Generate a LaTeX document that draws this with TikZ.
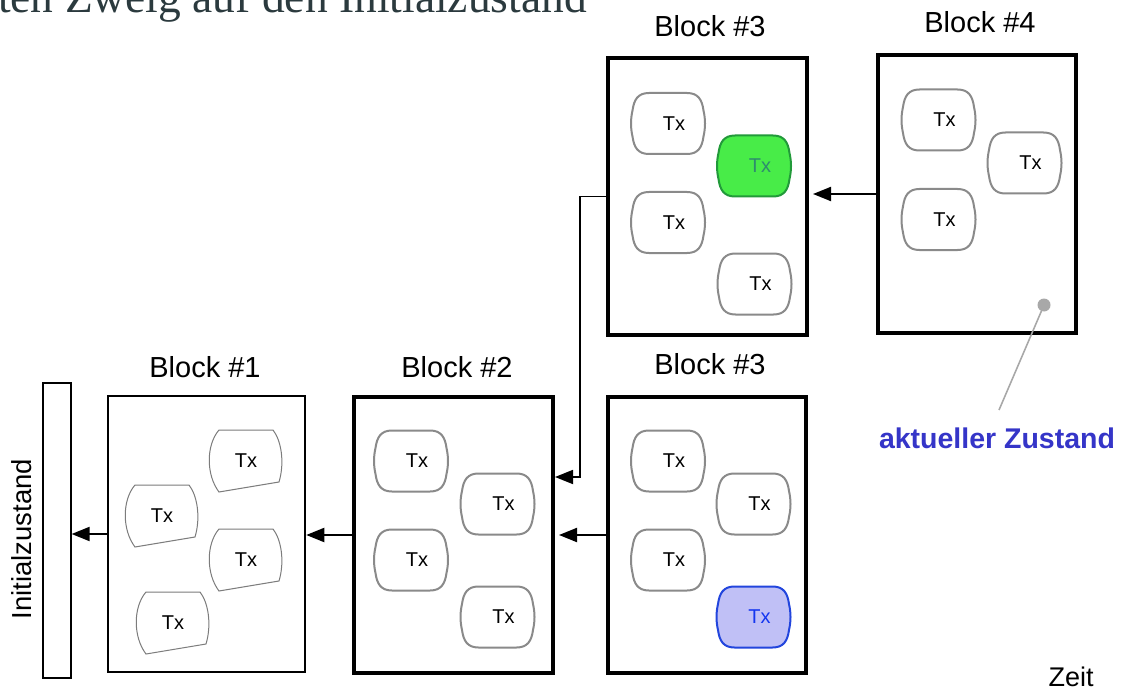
\documentclass[tikz,border=0pt]{standalone}
\usepackage{fontspec}
\setmainfont{Liberation Sans}
\newfontfamily\headserif{Liberation Serif}
\usetikzlibrary{arrows.meta}

\definecolor{txgray}{HTML}{8A8A8A}
\definecolor{headcol}{HTML}{2B3A3E}
\definecolor{greenfill}{HTML}{48EC48}
\definecolor{greenline}{HTML}{229A3A}
\definecolor{greentext}{HTML}{2E8C6E}
\definecolor{bluefill}{HTML}{C0C0F6}
\definecolor{blueline}{HTML}{2245DD}
\definecolor{bluetext}{HTML}{1436F0}
\definecolor{statecol}{HTML}{3535C8}
\definecolor{dotgray}{HTML}{A8A8A8}

\begin{document}
\begin{tikzpicture}[x=1pt,y=-1pt,
  blk/.style={draw=black, line width=4, inner sep=0, fill=white},
  blklabel/.style={font=\fontsize{29}{32}\selectfont},
  arr/.style={line width=2, -{Triangle[length=18pt,width=14pt]}},
  txfont/.style={font=\fontsize{20}{24}\selectfont},
  pics/tx/.style n args={3}{code={
    \draw[draw=#1, fill=#2, line width=2]
      (-19,-30.5) -- (19,-30.5)
      .. controls (30,-30.5) and (34,-24) .. (35.5,-13)
      .. controls (37.5,-4) and (37.5,4) .. (35.5,13)
      .. controls (34,24) and (30,30.5) .. (19,30.5)
      -- (-19,30.5)
      .. controls (-30,30.5) and (-34,24) .. (-35.5,13)
      .. controls (-37.5,4) and (-37.5,-4) .. (-35.5,-13)
      .. controls (-34,-24) and (-30,-30.5) .. (-19,-30.5) -- cycle;
    \node[txfont, text=#3] (-t) at (6,0) {Tx};
  }},
  pics/skewtx/.style={code={
    \draw[draw=txgray!90!black, line width=1, fill=white]
      (0,0) -- (54,0) .. controls (62,10) and (66,32) .. (60,52)
      -- (0,62) .. controls (-13,45) and (-13,15) .. (0,0) -- cycle;
    \node[txfont] (-t) at (27,31) {Tx};
  }}
]
\useasboundingbox (0,0) rectangle (1121,695);
\clip (0,0) rectangle (1121,695);

% heading line, cut at the top and on the left
\node[font=\headserif\fontsize{45.5}{50}\selectfont, text=headcol, anchor=base east, inner sep=0]
  (head) at (587,13) {ten Zweig auf den Initialzustand};

% initial state bar
\node[draw=black, line width=1.2, minimum width=28, minimum height=295, inner sep=0]
  (init) at (57,530.5) {};
\node[rotate=90, font=\fontsize{27.5}{30}\selectfont] (initlabel) at (22,539) {Initialzustand};

% blocks
\node[blk, line width=2.5, minimum width=197, minimum height=276] (b1) at (206.5,534) {};
\node[blk, minimum width=199, minimum height=276] (b2) at (453.5,535) {};
\node[blk, minimum width=198, minimum height=276] (b3) at (707,535) {};
\node[blk, minimum width=199, minimum height=277] (b3u) at (707.5,196.5) {};
\node[blk, line width=3.5, minimum width=198, minimum height=278] (b4) at (977,194) {};

% block titles
\node[blklabel] (l1) at (205,367) {Block \#1};
\node[blklabel] (l2) at (457,367) {Block \#2};
\node[blklabel] (l3) at (710,364) {Block \#3};
\node[blklabel] (l3u) at (710,26) {Block \#3};
\node[blklabel] (l4) at (980,22) {Block \#4};

% transactions of block 1
\pic (a1) at (219,430) {skewtx};
\pic (a2) at (135,485) {skewtx};
\pic (a3) at (219,529) {skewtx};
\pic (a4) at (146,592) {skewtx};

% transactions of block 2
\pic (c1) at (411,461) {tx={txgray}{white}{black}};
\pic (c2) at (497.5,504) {tx={txgray}{white}{black}};
\pic (c3) at (411,560) {tx={txgray}{white}{black}};
\pic (c4) at (497.5,617) {tx={txgray}{white}{black}};

% transactions of lower block 3
\pic (d1) at (668,461) {tx={txgray}{white}{black}};
\pic (d2) at (753.5,504) {tx={txgray}{white}{black}};
\pic (d3) at (668,560) {tx={txgray}{white}{black}};
\pic (d4) at (753.5,617) {tx={blueline}{bluefill}{bluetext}};

% transactions of upper block 3
\pic (e1) at (668,123.5) {tx={txgray}{white}{black}};
\pic (e2) at (754,166) {tx={greenline}{greenfill}{greentext}};
\pic (e3) at (668,222.5) {tx={txgray}{white}{black}};
\pic (e4) at (754.5,284) {tx={txgray}{white}{black}};

% transactions of block 4
\pic (f1) at (938.5,120) {tx={txgray}{white}{black}};
\pic (f2) at (1024.5,163) {tx={txgray}{white}{black}};
\pic (f3) at (938.5,219.5) {tx={txgray}{white}{black}};

% chain links
\draw[arr] (b1.west) -- (b1.west -| init.east);
\draw[arr] (b2.west) -- (b2.west -| b1.east);
\draw[arr, shorten >=4pt] (b3.west) -- (b3.west -| b2.east);
\coordinate (bend) at (580,477);
\draw[arr, line width=1.8] (b3u.west) -| (bend) -- (bend -| b2.east);
\draw[arr, shorten >=4pt] (b4.west) -- (b4.west -| b3u.east);

% current state marker
\node[circle, fill=dotgray, minimum size=13, inner sep=0] (dot) at (1044,305) {};
\coordinate (tail) at (999,410);
\draw[dotgray, line width=1.6] (dot.center) -- (tail);
\node[font=\bfseries\fontsize{28.5}{32}\selectfont, text=statecol] (state) at (997,438) {aktueller Zustand};

\node[font=\fontsize{27}{30}\selectfont] (zeit) at (1071,677) {Zeit};
\end{tikzpicture}
\end{document}
